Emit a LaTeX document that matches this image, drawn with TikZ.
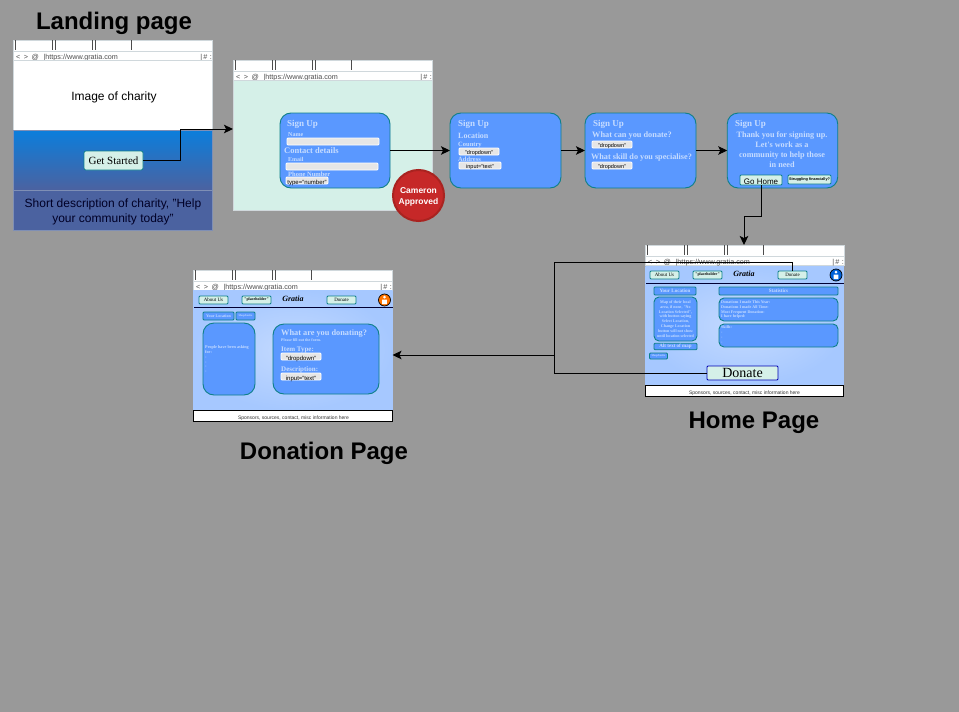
\documentclass[tikz,border=0pt]{standalone}
\usepackage{fontspec}
\setmainfont{Liberation Sans}
\newfontfamily\cardfont{Liberation Serif}
\usetikzlibrary{
    arrows.meta,
    calc,
    shadings
}

\definecolor{bggray}{HTML}{999999}
\definecolor{barline}{HTML}{D0D8DC}
\definecolor{mintfill}{HTML}{D5F0E8}
\definecolor{tealline}{HTML}{0E8088}
\definecolor{cardblue}{HTML}{5A98FF}
\definecolor{cardtext}{HTML}{C6DCFF}
\definecolor{inputgray}{HTML}{E6E6E6}
\definecolor{pagelight}{HTML}{C4DAFF}
\definecolor{pageblue}{HTML}{A6C8FF}
\definecolor{seatop}{HTML}{0B7EDC}
\definecolor{seabottom}{HTML}{4B62A0}
\definecolor{seaedge}{HTML}{7F8FB5}
\definecolor{stampred}{HTML}{C62828}
\definecolor{stampdark}{HTML}{A92320}

\newcommand{\fsz}[1]{\fontsize{#1}{#1}\selectfont}
\newcommand{\navtext}[1]{\raisebox{-1.5pt}{#1}}

\tikzset{
    flow/.style={line width=1pt,-{Stealth[length=9pt,width=8.5pt,inset=2pt]}},
    page/.style={draw=barline,line width=0.8pt,inner sep=0pt,outer sep=0pt},
    card/.style={draw=tealline,fill=cardblue,line width=0.9pt,rounded corners=11pt,inner sep=0pt,outer sep=0pt},
    smallcard/.style={card,rounded corners=5pt},
    navbtn/.style={draw=tealline,fill=mintfill,line width=0.8pt,rounded corners=1pt,inner sep=0pt,outer sep=0pt,minimum width=29pt,minimum height=8pt,font=\cardfont\fsz{5}},
    strip/.style={draw=tealline,fill=cardblue,line width=0.8pt,rounded corners=1pt,inner sep=0pt,outer sep=0pt,text=cardtext,font=\cardfont\bfseries\fsz{5}},
    inputbox/.style={draw=white,fill=inputgray,line width=0.8pt,rounded corners=1pt,inner sep=0pt,outer sep=0pt,font=\fsz{5.5}},
    cardlabel/.style={anchor=west,inner sep=0pt,text=cardtext,font=\cardfont\bfseries\fsz{#1}},
    pagetitle/.style={inner sep=0pt,font=\bfseries\fsz{24}},
    footerbox/.style={draw=black,fill=white,line width=0.9pt,inner sep=0pt,outer sep=0pt,minimum width=198.5pt,minimum height=11pt}
}

% tab strip and address line of a browser window
\newcommand{\browserbar}[3]{
    \node[page,fill=white,anchor=north west,minimum width=199.5pt,minimum height=20pt] (#1bar) at (#2,#3) {};
    \draw[barline,line width=0.8pt] (#2,#3+11) -- ++(199.5,0);
    \foreach \tab in {2,39,42,79,82,118} {
        \draw[black!70,line width=0.8pt] (#2+\tab,#3) -- ++(0,10);
    }
    \node[inner sep=0pt,anchor=west,text=black!70,font=\fsz{7.2}] (#1addr) at (#2+3,#3+17.2) {<\hspace{3.5pt}>\hspace{3.5pt}@\hspace{3.5pt}\,|https://www.gratia.com};
    \node[inner sep=0pt,anchor=east,text=black!70,font=\fsz{7.2}] (#1menu) at (#2+199,#3+17.2) {|\,\#\,\,:};
}

\begin{document}
\begin{tikzpicture}[x=1pt,y=-1pt]

\useasboundingbox (0,0) rectangle (959,712);
\fill[bggray] (0,0) rectangle (959,712);

% Page titles
\node[pagetitle] (landingtitle) at (114,23) {Landing page};
\node[pagetitle] (hometitle) at (754,423) {Home Page};
\node[pagetitle] (donationtitle) at (324,453) {Donation Page};

% Landing page
\browserbar{landing}{13}{40}
\node[page,fill=white,minimum width=199.5pt,minimum height=70pt] (charityimage) at (112.75,95) {};
\node[inner sep=0pt,font=\fsz{12}] (charitytext) at (114,97) {Image of charity};
\node[page,draw=seaedge,top color=seatop,bottom color=seabottom,minimum width=199.5pt,minimum height=60pt] (landingsea) at (112.75,160) {};
\node[page,draw=seaedge,fill=seabottom,minimum width=199.5pt,minimum height=40pt] (landingbase) at (112.75,210) {};
\node[inner sep=0pt,align=center,text=black!85!blue,font=\fsz{12}] (landingtext) at (113,212) {Short description of charity, "Help\\[2.5pt]your community today"};
\node[draw=tealline,fill=mintfill,line width=0.7pt,rounded corners=2pt,inner sep=0pt,outer sep=0pt,minimum width=59pt,minimum height=19pt,font=\cardfont\fsz{11}] (getstarted) at (113.5,160.5) {Get Started};

% Sign up, first step
\browserbar{signup}{233}{60}
\node[page,fill=mintfill,minimum width=199.5pt,minimum height=130pt] (signupframe) at (332.75,145) {};
\node[card,minimum width=110pt,minimum height=75pt] (signupname) at (335,150.5) {};
\node[cardlabel=9] (nametitle) at (287,124) {Sign Up};
\node[cardlabel=6] (namelabel) at (288,134.5) {Name};
\node[inputbox,minimum width=92pt,minimum height=7pt] (nameinput) at (333,141.5) {};
\node[cardlabel=8.5] (contactlabel) at (284,151) {Contact details};
\node[cardlabel=6] (emaillabel) at (288,159.5) {Email};
\node[inputbox,minimum width=92pt,minimum height=7pt] (emailinput) at (332,166.5) {};
\node[cardlabel=6.5] (phonelabel) at (288,174.5) {Phone Number};
\node[inputbox,minimum width=42pt,minimum height=7pt] (phoneinput) at (307,180.5) {};
\node[inner sep=0pt,font=\fsz{6}] (phonetype) at (307,183) {type="number"};
\node[circle,draw=stampdark,fill=stampred,line width=2pt,minimum size=51pt,inner sep=0pt] (cameron) at (418.5,195.5) {};
\node[inner sep=0pt,align=center,text=white,font=\bfseries\fsz{8.5}] (camerontext) at (418.5,197) {Cameron\\[3pt]Approved};

% Sign up, second step
\node[card,minimum width=111pt,minimum height=75pt] (signuplocation) at (505.5,150.5) {};
\node[cardlabel=9] (locationtitle) at (458,124) {Sign Up};
\node[cardlabel=8] (locationlabel) at (458,136) {Location};
\node[cardlabel=6.5] (countrylabel) at (458,145.5) {Country};
\node[inputbox,minimum width=40pt,minimum height=7pt] (countryinput) at (479,151.5) {};
\node[inner sep=0pt,font=\fsz{5.5}] (countrytext) at (479,153) {"dropdown"};
\node[cardlabel=6.5] (addresslabel) at (458,159.5) {Address};
\node[inputbox,minimum width=42pt,minimum height=7pt] (addressinput) at (480,165.5) {};
\node[inner sep=0pt,font=\fsz{5.5}] (addresstext) at (480,167) {input="text"};

% Sign up, third step
\node[card,minimum width=111pt,minimum height=75pt] (signupskill) at (640.5,150.5) {};
\node[cardlabel=9] (skilltitle) at (593,124) {Sign Up};
\node[cardlabel=8.3] (donatelabel) at (592,136) {What can you donate?};
\node[inputbox,minimum width=40pt,minimum height=7pt] (donateinput) at (612,144.5) {};
\node[inner sep=0pt,font=\fsz{5.5}] (donatetext) at (612,146) {"dropdown"};
\node[cardlabel=8.2] (skilllabel) at (591,157.5) {What skill do you specialise?};
\node[inputbox,minimum width=40pt,minimum height=7pt] (skillinput) at (612,165.5) {};
\node[inner sep=0pt,font=\fsz{5.5}] (skilltext) at (612,167) {"dropdown"};

% Sign up, last step
\node[card,minimum width=110.5pt,minimum height=75pt] (signupthanks) at (782.5,150.5) {};
\node[cardlabel=9] (thankstitle) at (735,124) {Sign Up};
\node[inner sep=0pt,align=center,text=cardtext,font=\cardfont\bfseries\fsz{8.2}] (thankstext) at (782,149.5) {Thank you for signing up.\\[1.6pt]Let's work as a\\[1.6pt]community to help those\\[1.6pt]in need};
\node[navbtn,minimum width=42pt,minimum height=10pt] (gohome) at (761,180) {};
\node[inner sep=0pt,font=\fsz{8}] (gohometext) at (761,182) {Go Home};
\node[navbtn,minimum width=43pt,minimum height=9pt,font=\bfseries\fsz{3.8}] (struggling) at (809.5,179.5) {Struggling financially?};

% Home page
\browserbar{home}{645}{245}
\node[page,draw=none,inner color=pagelight,outer color=pageblue,minimum width=198.5pt,minimum height=119pt] (homeframe) at (744.5,325.5) {};
\node[navbtn] (homeabout) at (664.5,275) {\navtext{About Us}};
\node[navbtn] (homeholder) at (707.5,275) {\bfseries\fsz{4}"placeholder"};
\node[inner sep=0pt,font=\cardfont\bfseries\itshape\fsz{8}] (homelogo) at (744,274) {Gratia};
\node[navbtn] (homedonate) at (792.5,275) {\navtext{Donate}};
\node[circle,draw=black,fill=blue!55!cyan!85!black,line width=0.7pt,minimum size=12pt,inner sep=0pt] (homeuser) at (836,275) {};
\fill[white] (836,272.2) circle (1.5) (833.6,274.5) rectangle (838.4,279);
\draw[black!80!blue,line width=1pt] (646,283) -- (844,283);
\node[strip,minimum width=42pt,minimum height=8pt] (homeplace) at (675,291) {Your Location};
\node[strip,minimum width=119pt,minimum height=8pt] (homestats) at (778.5,291) {Statistics};
\node[smallcard,minimum width=43pt,minimum height=44pt,align=center,text=cardtext,font=\cardfont\bfseries\fsz{4}] (homemap) at (675.5,319) {Map of their local\\[0.8pt]area, if none, "No\\[0.8pt]Location Selected",\\[0.8pt]with button saying\\[0.8pt]Select Location,\\[0.8pt]Change Location\\[0.8pt]button will not show\\[0.8pt]until location selected};
\node[smallcard,minimum width=119pt,minimum height=23pt] (homecount) at (778.5,309.5) {};
\node[anchor=north west,inner sep=0pt,align=left,text=cardtext,font=\cardfont\bfseries\fsz{4}] (homecounttext) at (721,300.5) {Donations I made This Year:\\[0.8pt]Donations I made All Time:\\[0.8pt]Most Frequent Donation:\\[0.8pt]I have helped:};
\node[smallcard,minimum width=119pt,minimum height=23pt] (homeskills) at (778.5,335.5) {};
\node[anchor=north west,inner sep=0pt,align=left,text=cardtext,font=\cardfont\bfseries\fsz{4}] (homeskillstext) at (721,326) {Skills:\\[0.8pt]-\\[0.8pt]-\\[0.8pt]-};
\node[strip,minimum width=43pt,minimum height=6.5pt] (homealt) at (675.5,346.5) {Alt text of map};
\node[strip,minimum width=18pt,minimum height=6pt,font=\cardfont\bfseries\fsz{2.8}] (homeshop) at (658.5,356) {Shop/Invite};
\node[draw=blue!70!black,fill=mintfill,line width=0.8pt,rounded corners=1pt,inner sep=0pt,outer sep=0pt,minimum width=71pt,minimum height=14pt,font=\cardfont\fsz{14}] (bigdonate) at (742.5,373) {\raisebox{-1pt}{Donate}};
\node[footerbox] (homefooter) at (744.5,390.5) {};
\node[inner sep=0pt,text=black!80,font=\fsz{5}] (homefootertext) at (744.5,393) {Sponsors, sources, contact, misc information here};

% Donation page
\browserbar{donation}{193}{270}
\node[page,draw=none,inner color=pagelight,outer color=pageblue,minimum width=199.5pt,minimum height=120pt] (donationframe) at (292.75,350) {};
\node[navbtn] (donationabout) at (213.5,300) {\navtext{About Us}};
\node[navbtn] (donationholder) at (256.5,300) {\bfseries\fsz{4}"placeholder"};
\node[inner sep=0pt,font=\cardfont\bfseries\itshape\fsz{8}] (donationlogo) at (293,299) {Gratia};
\node[navbtn] (donationdonate) at (341.5,300) {\navtext{Donate}};
\node[circle,draw=black,fill=orange!90!red,line width=0.7pt,minimum size=12pt,inner sep=0pt] (donationuser) at (384.5,300) {};
\fill[white] (384.5,297.2) circle (1.5) (382.1,299.5) rectangle (386.9,304);
\draw[black!80!blue,line width=1pt] (194,307.5) -- (393,307.5);
\node[strip,minimum width=31pt,minimum height=8pt,font=\cardfont\bfseries\fsz{4}] (donationplace) at (218.5,316) {Your Location};
\node[strip,minimum width=19pt,minimum height=8pt,font=\cardfont\bfseries\fsz{2.8}] (donationshop) at (245.5,316) {Shop/Invite};
\node[card,minimum width=52pt,minimum height=72pt] (donationlist) at (229,359) {};
\node[anchor=north west,inner sep=0pt,align=left,text=cardtext,font=\cardfont\bfseries\fsz{4.2}] (donationlisttext) at (205,345.5) {People have been asking\\[0.6pt]for:\\[0.6pt]-\\[0.6pt]-\\[0.6pt]-\\[0.6pt]-};
\node[card,minimum width=106pt,minimum height=70pt] (donationform) at (326,359) {};
\node[cardlabel=8.3] (formtitle) at (281,333.5) {What are you donating?};
\node[cardlabel=4] (formnote) at (281,340) {Please fill out the form.};
\node[cardlabel=7] (itemlabel) at (281,349.5) {Item Type:};
\node[inputbox,minimum width=40pt,minimum height=7pt] (iteminput) at (301,356.5) {};
\node[inner sep=0pt,font=\fsz{6}] (itemtext) at (301,358.5) {"dropdown"};
\node[cardlabel=7] (desclabel) at (281,369.5) {Description:};
\node[inputbox,minimum width=40pt,minimum height=7pt] (descinput) at (301,376.5) {};
\node[inner sep=0pt,font=\fsz{6}] (desctext) at (301,378.5) {input="text"};
\node[footerbox] (donationfooter) at (293,415.5) {};
\node[inner sep=0pt,text=black!80,font=\fsz{5}] (donationfootertext) at (293.5,418) {Sponsors, sources, contact, misc information here};

% Connectors
\coordinate (bendstart) at (180,129);
\coordinate (bendhome) at (744,216);
\coordinate (bendnav) at (554,262);
\coordinate (bendjoin) at (554,355);
\draw[flow] (getstarted.east) -| (bendstart) -- (signupframe.west |- bendstart);
\draw[flow] (signupname.east) -- (signuplocation.west);
\draw[flow] (signuplocation.east) -- (signupskill.west);
\draw[flow] (signupskill.east) -- (signupthanks.west);
\draw[flow] (gohome.south) |- (bendhome) -- (homebar.north -| bendhome);
\draw[line width=1pt] (homedonate.north) |- (bendnav) -- (bendjoin);
\draw[line width=1pt] (bigdonate.west) -| (bendjoin);
\draw[flow] (bendjoin) -- (donationframe.east |- bendjoin);

\end{tikzpicture}
\end{document}
